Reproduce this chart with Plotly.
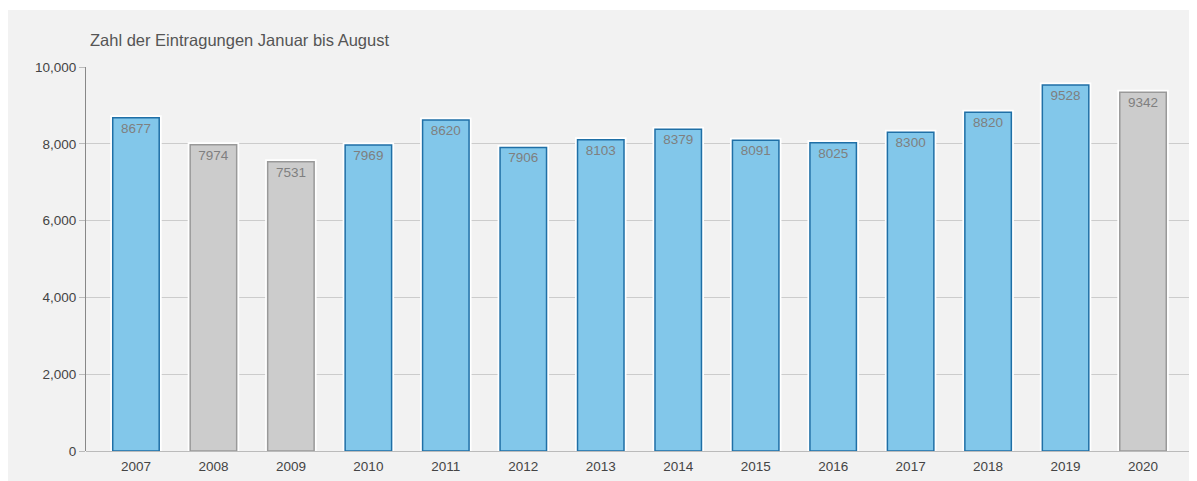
import plotly.graph_objects as go

years = ["2007", "2008", "2009", "2010", "2011", "2012", "2013", "2014",
         "2015", "2016", "2017", "2018", "2019", "2020"]
values = [8677, 7974, 7531, 7969, 8620, 7906, 8103, 8379, 8091, 8025, 8300, 8820, 9528, 9342]
highlight = [True, False, False, True, True, True, True, True, True, True, True, True, True, False]
title_text = "Zahl der Eintragungen Januar bis August"

fill = ["#82c7ea" if h else "#cccccc" for h in highlight]
edge = ["#1f6fa6" if h else "#999999" for h in highlight]

# page body has an 8px margin; figure is placed at (8, 8)
OFF = 8
W, H = 1197 - OFF, 481 - OFF
L, T = 86 - OFF, 67 - OFF
R = W - (1193 - OFF)
B = H - (451 - OFF)
pw, ph = W - L - R, H - T - B

FONT = "Liberation Sans, Arial"

fig = go.Figure()
# white halo behind bars
fig.add_trace(go.Bar(x=years, y=values, width=0.6,
                     marker=dict(color="rgba(255,255,255,0)", line=dict(color="white", width=5)),
                     hoverinfo="skip", showlegend=False))
fig.add_trace(go.Bar(x=years, y=values, width=0.6,
                     marker=dict(color=fill, line=dict(color=edge, width=1.5)),
                     text=[str(v) for v in values], textposition="inside",
                     insidetextanchor="end", textangle=0,
                     textfont=dict(family=FONT, size=13.5, color="#7f7f7f"),
                     showlegend=False))

fig.add_shape(type="rect", xref="paper", yref="paper",
              x0=(0 - L) / pw, x1=(W - L) / pw,
              y0=(ph - (H - T)) / ph, y1=(ph - (2 - T)) / ph,
              fillcolor="#f2f2f2", line=dict(width=0), layer="below")

fig.add_annotation(text=title_text, xref="paper", yref="paper",
                   x=(88 - OFF - L) / pw, y=(ph - (40 - OFF - T)) / ph,
                   xanchor="left", yanchor="middle", showarrow=False,
                   font=dict(family=FONT, size=16.5, color="#555555"))

fig.update_layout(
    width=W, height=H,
    margin=dict(l=L, r=R, t=T, b=B, pad=0),
    paper_bgcolor="white", plot_bgcolor="rgba(0,0,0,0)",
    barmode="overlay",
    font=dict(family=FONT, size=13.5, color="#444444"),
    xaxis=dict(type="category", range=[-0.645, 13.645], showgrid=False,
               ticks="outside", ticklen=3, tickcolor="rgba(0,0,0,0)",
               showline=False, tickfont=dict(size=13.5, color="#444444")),
    yaxis=dict(range=[0, 10000], dtick=2000, tickformat=",d",
               showgrid=True, gridcolor="#cccccc", gridwidth=1,
               zeroline=True, zerolinecolor="#bbbbbb", zerolinewidth=1,
               showline=True, linecolor="#888888", linewidth=1,
               ticks="outside", ticklen=6, tickcolor="#bbbbbb",
               tickfont=dict(size=13.5, color="#444444")),
)

fig.write_html("out.html")
